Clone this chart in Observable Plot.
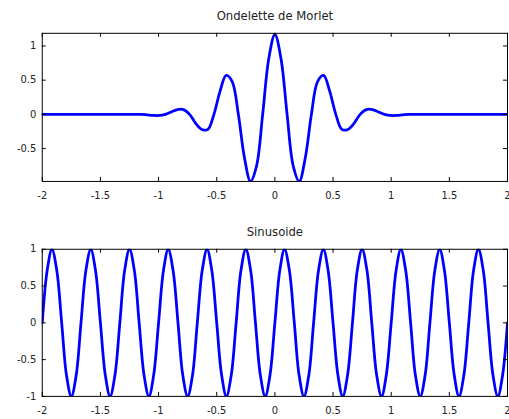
<!DOCTYPE html>
<html>
<head>
<meta charset="utf-8">
<script src="https://cdn.jsdelivr.net/npm/d3@7"></script>
<script src="https://cdn.jsdelivr.net/npm/@observablehq/plot@0.6"></script>
<style>
  html, body { margin: 0; padding: 0; background: #fff; overflow: hidden; }
  #wrap { position: relative; width: 509px; height: 419px; overflow: hidden; background: #fff; }
  #top, #bottom { position: absolute; left: 0; }
  #top { top: 0; }
  #bottom { top: 210px; }
</style>
</head>
<body>
<div id="wrap"><div id="top"></div><div id="bottom"></div></div>
<script>
// ---- Data ----
const titleTop = "Ondelette de Morlet";
const titleBottom = "Sinusoide";

// Morlet wavelet: sample points (x, y)
const morletX = [-2, -1.6, -1.3, -1.152, -1.099, -1.047, -0.995, -0.942, -0.890, -0.838, -0.785, -0.733, -0.681, -0.628, -0.576, -0.524, -0.471, -0.419, -0.367, -0.314, -0.262, -0.209, -0.157, -0.105, -0.052,
  0,
  0.052, 0.105, 0.157, 0.209, 0.262, 0.314, 0.367, 0.419, 0.471, 0.524, 0.576, 0.628, 0.681, 0.733, 0.785, 0.838, 0.890, 0.942, 0.995, 1.047, 1.099, 1.152, 1.3, 1.6, 2];
const morletY = [0, 0, 0, 0, -0.007, -0.015, -0.016, 0, 0.035, 0.07, 0.07, 0, -0.13, -0.22, -0.22, 0, 0.34, 0.57, 0.48, 0, -0.63, -0.98, -0.75, 0, 0.82,
  1.17,
  0.82, 0, -0.75, -0.98, -0.63, 0, 0.48, 0.57, 0.34, 0, -0.22, -0.22, -0.13, 0, 0.07, 0.07, 0.035, 0, -0.016, -0.015, -0.007, 0, 0, 0, 0];

// Sinusoid: sample points (x, y)
const sineX = [-2, -1.958, -1.917, -1.875, -1.833, -1.792, -1.75, -1.708, -1.667, -1.625, -1.583, -1.542, -1.5, -1.458, -1.417, -1.375, -1.333, -1.292, -1.25, -1.208, -1.167, -1.125, -1.083, -1.042,
  -1, -0.958, -0.917, -0.875, -0.833, -0.792, -0.75, -0.708, -0.667, -0.625, -0.583, -0.542, -0.5, -0.458, -0.417, -0.375, -0.333, -0.292, -0.25, -0.208, -0.167, -0.125, -0.083, -0.042,
  0, 0.042, 0.083, 0.125, 0.167, 0.208, 0.25, 0.292, 0.333, 0.375, 0.417, 0.458, 0.5, 0.542, 0.583, 0.625, 0.667, 0.708, 0.75, 0.792, 0.833, 0.875, 0.917, 0.958,
  1, 1.042, 1.083, 1.125, 1.167, 1.208, 1.25, 1.292, 1.333, 1.375, 1.417, 1.458, 1.5, 1.542, 1.583, 1.625, 1.667, 1.708, 1.75, 1.792, 1.833, 1.875, 1.917, 1.958, 2];
const sineY = [0, 0.71, 1, 0.71, 0, -0.71, -1, -0.71, 0, 0.71, 1, 0.71, 0, -0.71, -1, -0.71, 0, 0.71, 1, 0.71, 0, -0.71, -1, -0.71,
  0, 0.71, 1, 0.71, 0, -0.71, -1, -0.71, 0, 0.71, 1, 0.71, 0, -0.71, -1, -0.71, 0, 0.71, 1, 0.71, 0, -0.71, -1, -0.71,
  0, 0.71, 1, 0.71, 0, -0.71, -1, -0.71, 0, 0.71, 1, 0.71, 0, -0.71, -1, -0.71, 0, 0.71, 1, 0.71, 0, -0.71, -1, -0.71,
  0, 0.71, 1, 0.71, 0, -0.71, -1, -0.71, 0, 0.71, 1, 0.71, 0, -0.71, -1, -0.71, 0, 0.71, 1, 0.71, 0, -0.71, -1, -0.71, 0];

// Ticks
const xTicks = [-2, -1.5, -1, -0.5, 0, 0.5, 1, 1.5, 2];
const yTicksTop = [-0.5, 0, 0.5, 1];
const yTicksBottom = [-1, -0.5, 0, 0.5, 1];
const xDomain = [-2, 2];
const yDomainTop = [-0.98, 1.185];
const yDomainBottom = [-1, 1];

// ---- Drawing ----
const fmt = d => String(d);
const font = "DejaVu Sans, sans-serif";
const textColor = "#222";

function panel({xs, ys, yDomain, yTicks, title, height, marginTop, marginBottom}) {
  const width = 512, marginLeft = 42, marginRight = 2;
  const fw = width - marginLeft - marginRight;
  const fh = height - marginTop - marginBottom;
  const data = xs.map((x, i) => ({x, y: ys[i]}));
  const tick = 4;
  return Plot.plot({
    width, height, marginLeft, marginRight, marginTop, marginBottom,
    style: {fontFamily: font, fontSize: "10px", color: textColor, background: "#fff", overflow: "visible"},
    x: {domain: xDomain, label: null},
    y: {domain: yDomain, label: null},
    marks: [
      Plot.line(data, {x: "x", y: "y", stroke: "#0000ff", strokeWidth: 2.8, curve: "catmull-rom", clip: true}),
      Plot.frame({stroke: "#000", strokeWidth: 1}),
      // inward ticks on all four sides
      Plot.tickX(xTicks, {x: d => d, insetTop: fh - tick, stroke: "#000"}),
      Plot.tickX(xTicks, {x: d => d, insetBottom: fh - tick, stroke: "#000"}),
      Plot.tickY(yTicks, {y: d => d, insetRight: fw - tick, stroke: "#000"}),
      Plot.tickY(yTicks, {y: d => d, insetLeft: fw - tick, stroke: "#000"}),
      Plot.axisX(xTicks, {tickSize: 0, tickPadding: 11, tickFormat: fmt, fill: textColor, label: null}),
      Plot.axisY(yTicks, {tickSize: 0, tickPadding: 6, tickFormat: fmt, fill: textColor, label: null}),
      Plot.text([title], {frameAnchor: "top", dy: -17, lineAnchor: "middle", fontSize: 11.7, fill: textColor, text: d => d})
    ]
  });
}

document.getElementById("top").appendChild(panel({
  xs: morletX, ys: morletY, yDomain: yDomainTop, yTicks: yTicksTop, title: titleTop,
  height: 210, marginTop: 33, marginBottom: 28
}));
document.getElementById("bottom").appendChild(panel({
  xs: sineX, ys: sineY, yDomain: yDomainBottom, yTicks: yTicksBottom, title: titleBottom,
  height: 209, marginTop: 39, marginBottom: 22
}));
</script>
</body>
</html>
